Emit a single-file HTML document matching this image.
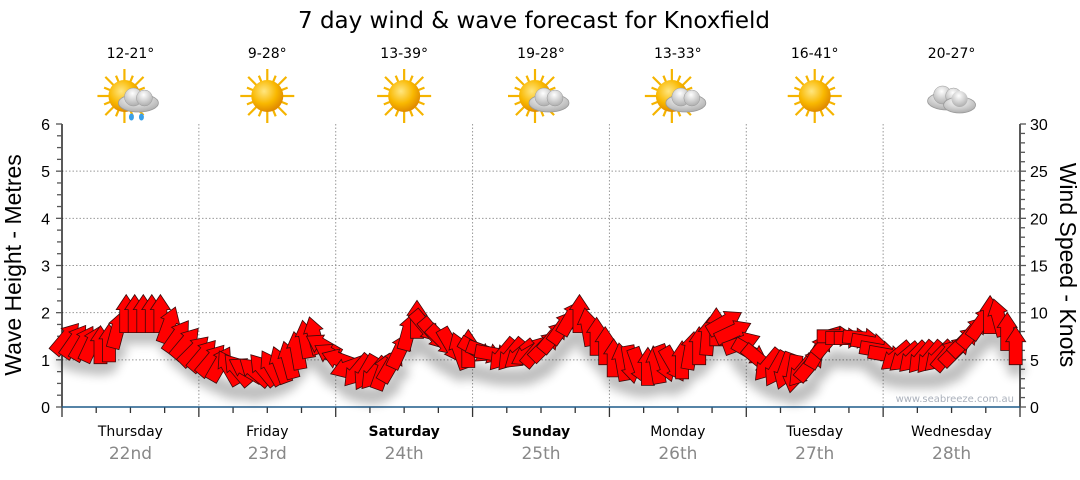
<!DOCTYPE html>
<html><head><meta charset="utf-8">
<style>
html,body{margin:0;padding:0;background:#fff;}
body{width:1080px;height:475px;overflow:hidden;font-family:"Liberation Sans",sans-serif;}
svg text{font-family:"Liberation Sans","DejaVu Sans",sans-serif;}
svg text.v{font-family:"DejaVu Sans","Liberation Sans",sans-serif;}
</style></head>
<body>
<svg id="chart" width="1080" height="475" viewBox="0 0 1080 475" xmlns="http://www.w3.org/2000/svg">
<defs>
<filter id="shadow" x="-50%" y="-50%" width="200%" height="250%">
<feGaussianBlur stdDeviation="5"/>
</filter>
<radialGradient id="sun" cx="40%" cy="35%" r="65%">
<stop offset="0" stop-color="#ffe680"/><stop offset="0.6" stop-color="#f9b800"/><stop offset="1" stop-color="#e08a00"/>
</radialGradient>
<radialGradient id="cloud" cx="45%" cy="30%" r="75%">
<stop offset="0" stop-color="#ffffff"/><stop offset="1" stop-color="#a8a8a8"/>
</radialGradient>
</defs>
<text class="v" x="534" y="28" font-size="23" text-anchor="middle" fill="#000">7 day wind &amp; wave forecast for Knoxfield</text>
<g id="grid"></g>
<g id="axes"></g>
<g id="icons"></g>
<g id="shadows" filter="url(#shadow)" opacity="0.25"></g>
<g id="arrows"></g>
<text class="v" x="1014" y="402" font-size="10" fill="#aab0bb" text-anchor="end">www.seabreeze.com.au</text>
<text transform="translate(21,265) rotate(-90)" font-size="23" text-anchor="middle">Wave Height - Metres</text>
<text transform="translate(1060,265) rotate(90)" font-size="23" text-anchor="middle">Wind Speed - Knots</text>
</svg>
<script>
const days = ["Thursday","Friday","Saturday","Sunday","Monday","Tuesday","Wednesday"];
const dates = ["22nd","23rd","24th","25th","26th","27th","28th"];
const boldDays = [false,false,true,true,false,false,false];
const temps = ["12-21°","9-28°","13-39°","19-28°","13-33°","16-41°","20-27°"];
const weather = ["sun-rain","sun","sun","sun-cloud","sun-cloud","sun","cloud"];
const leftTicks = [0,1,2,3,4,5,6];
const rightTicks = [0,5,10,15,20,25,30];
const windSpeed = [
7.3,7,6.8,6.7,6.6,6.8,8.2,9.9,9.9,9.9,9.9,9.9,8.7,7.5,6.8,6,
5.5,5,4.6,4.2,4,4,3.8,4,4.2,4.5,5,6,7.2,7.6,6.5,5.5,
5,4.2,3.8,3.6,3.5,3.8,4.5,6,8,9.3,8.5,7.7,7,6.5,6,6.2,
6,5.8,5.6,5.5,5.5,5.5,5.6,6,6.5,7.5,8.5,9.5,9.9,8.5,7.5,6.5,
5.2,4.8,4.5,4.3,4.3,4.5,4.6,4.5,5,6,6.5,7.5,8.5,9,8,6.8,
5.8,5,4.4,4,3.8,3.5,3.8,4.5,6,7,7.5,7.3,7.3,7.3,6.8,6,
5.5,5.3,5.2,5.2,5.2,5.2,5.3,5.6,6,7,8,9,9.8,9.5,8,6.5];
const windDir = [
40,35,30,25,0,0,15,0,0,0,0,0,20,35,40,45,
40,40,30,-30,-40,-60,-50,-40,-30,-20,-15,-10,-10,-15,-60,-60,
-70,-110,-140,-150,-140,20,30,25,15,0,140,140,135,150,-20,0,
120,110,100,-140,-140,-130,-120,40,45,40,35,30,0,-10,0,0,
0,-10,170,160,0,-10,160,150,0,10,0,5,0,60,65,70,
120,130,-140,-150,-160,-170,-140,40,30,40,90,90,90,95,100,100,
100,-130,-130,-135,-140,-140,-135,40,45,45,40,35,0,-15,0,0];

const NS="http://www.w3.org/2000/svg";
const X0=62,X1=1020,Y0=407,Y1=124;
const dayW=(X1-X0)/7;
const stepsPerDay=16;
function xStep(i){return X0+dayW*(i+0.5)/stepsPerDay;}
function yMetres(v){return Y0-(Y0-Y1)*v/6;}
function yKnots(v){return Y0-(Y0-Y1)*v/30;}
function mk(tag,attrs,parent){const e=document.createElementNS(NS,tag);for(const k in attrs)e.setAttribute(k,attrs[k]);parent.appendChild(e);return e;}

const grid=document.getElementById('grid');
const axes=document.getElementById('axes');
leftTicks.forEach(t=>{
  if(t===0||t===6)return;
  const l=mk('line',{x1:X0,x2:X1,y1:yMetres(t),y2:yMetres(t),stroke:'#999','stroke-dasharray':'1.5,2','stroke-width':1},grid);
  
  
});
for(let d=0;d<7;d++){
  const xb=X0+dayW*(d+1);
  if(d<6){
    const l=mk('line',{x1:xb,x2:xb,y1:Y1,y2:Y0,stroke:'#999','stroke-dasharray':'1.5,2','stroke-width':1},grid);
    
    
  }
  const cx=X0+dayW*(d+0.5);
  const t1=mk('text',{x:cx,y:436,'font-size':14,'text-anchor':'middle','font-weight':boldDays[d]?'bold':'normal',class:'v'},axes);
  t1.textContent=days[d];
  
  
  const t2=mk('text',{x:cx,y:459,'font-size':17,'text-anchor':'middle',fill:'#888',class:'v'},axes);
  t2.textContent=dates[d];
  
  
  const t3=mk('text',{x:cx,y:58,'font-size':14,'text-anchor':'middle',class:'v'},axes);
  t3.textContent=temps[d];
  
  
  drawIcon(weather[d],cx,96);
}
for(let k=0;k<=28;k++){
  const x=X0+dayW*k/4;
  mk('line',{x1:x,x2:x,y1:Y0,y2:Y0+(k%4===0?10:6),stroke:'#333','stroke-width':1.3},axes);
}
mk('line',{x1:X0,x2:X0,y1:Y1,y2:Y0,stroke:'#000','stroke-width':1.3},axes);
mk('line',{x1:X1,x2:X1,y1:Y1,y2:Y0,stroke:'#000','stroke-width':1.3},axes);
const xa=mk('line',{x1:X0,x2:X1,y1:Y0,y2:Y0,stroke:'#1f5b8a','stroke-width':1.5},axes);


for(let k=0;k<=24;k++){
  const y=yMetres(k/4);
  mk('line',{x1:X0-(k%4===0?6:5),x2:X0,y1:y,y2:y,stroke:'#555','stroke-width':1.3},axes);
}
leftTicks.forEach(t=>{
  const tx=mk('text',{x:X0-12,y:yMetres(t)+6,'font-size':16,'text-anchor':'end'},axes);
  tx.textContent=t;
  
  
});
for(let k=0;k<=30;k++){
  const y=yKnots(k);
  mk('line',{x1:X1,x2:X1+(k%5===0?6:5),y1:y,y2:y,stroke:'#555','stroke-width':1.3},axes);
}
rightTicks.forEach(t=>{
  const tx=mk('text',{x:X1+10,y:yKnots(t)+6,'font-size':16,'text-anchor':'start'},axes);
  tx.textContent=t;
  
  
});

const arrowPts="0,-19 10,-4 6.5,-4 6.5,19 -6.5,19 -6.5,-4 -10,-4";
const ag=document.getElementById('arrows');
const sg=document.getElementById('shadows');
windSpeed.forEach((v,i)=>{
  const x=xStep(i), y=yKnots(v), a=windDir[i];
  const s=mk('ellipse',{cx:x,cy:y+22,rx:9,ry:9,fill:'#000'},sg);
  
  
  const p=mk('polygon',{points:arrowPts,fill:'#ff0000',stroke:'#3a0a0a','stroke-width':0.8,transform:`translate(${x.toFixed(1)},${y.toFixed(1)}) rotate(${a})`},ag);
  
  
});

function drawIcon(type,cx,cy){
  const g=mk('g',{},document.getElementById('icons'));
  
  
  const hasSun=type.indexOf('sun')===0;
  const sx = type==='sun'?cx:cx-6;
  if(hasSun){
    for(let r=0;r<16;r++){
      const ang=r*Math.PI/8, len=r%2?22:27;
      mk('line',{x1:sx+Math.cos(ang)*12,y1:cy+Math.sin(ang)*12,x2:sx+Math.cos(ang)*len,y2:cy+Math.sin(ang)*len,stroke:'#f5b400','stroke-width':2.2},g);
    }
    mk('circle',{cx:sx,cy:cy,r:16,fill:'url(#sun)'},g);
  }
  if(type!=='sun'){
    const ox = type==='cloud'?cx-4:cx+8, oy = type==='cloud'?cy+2:cy+4;
    mk('ellipse',{cx:ox,cy:oy+3,rx:20,ry:9,fill:'url(#cloud)',stroke:'#9a9a9a','stroke-width':0.8},g);
    mk('circle',{cx:ox-5,cy:oy-3,r:9,fill:'url(#cloud)',stroke:'#9a9a9a','stroke-width':0.5},g);
    mk('circle',{cx:ox+6,cy:oy-2,r:8,fill:'url(#cloud)',stroke:'#9a9a9a','stroke-width':0.5},g);
    if(type==='cloud'){
      mk('ellipse',{cx:ox+12,cy:oy+7,rx:16,ry:8,fill:'url(#cloud)',stroke:'#9a9a9a','stroke-width':0.8},g);
      mk('circle',{cx:ox+12,cy:oy+1,r:8,fill:'url(#cloud)'},g);
    }
    if(type==='sun-rain'){
      mk('ellipse',{cx:ox-7,cy:oy+17,rx:2.5,ry:3.5,fill:'#3aa0e8'},g);
      mk('ellipse',{cx:ox+3,cy:oy+17,rx:2.5,ry:3.5,fill:'#3aa0e8'},g);
    }
  }
}
</script>
</body></html>
